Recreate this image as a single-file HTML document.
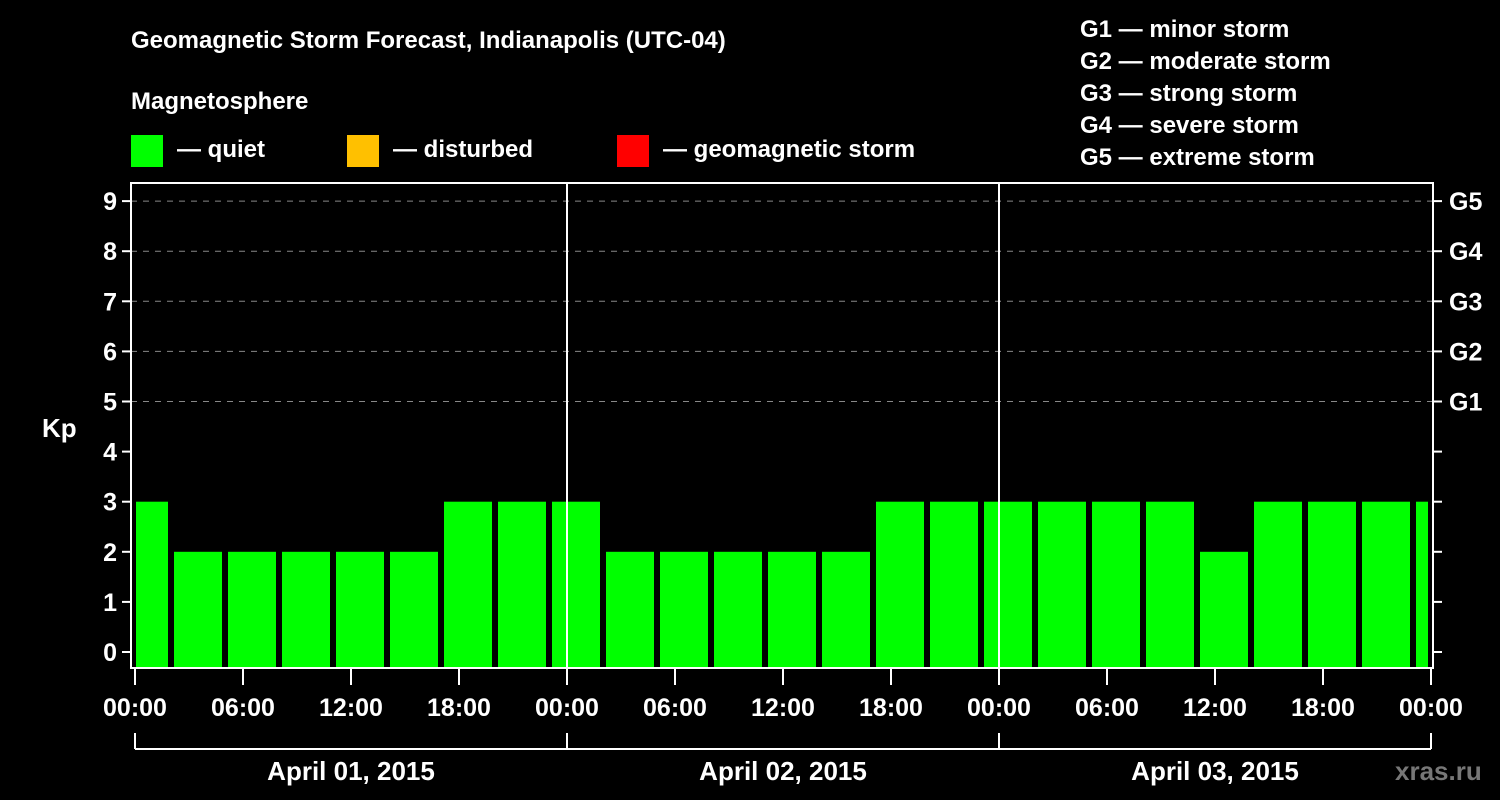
<!DOCTYPE html>
<html><head><meta charset="utf-8"><style>
body{margin:0;background:#000;}
svg{display:block;font-family:"Liberation Sans",Arial,sans-serif;font-weight:bold;}
</style></head><body>
<svg id="chart" width="1500" height="800" viewBox="0 0 1500 800">
<rect width="1500" height="800" fill="#000"/>
<text x="131" y="48" fill="#fff" font-size="24">Geomagnetic Storm Forecast, Indianapolis (UTC-04)</text>
<text x="131" y="109" fill="#fff" font-size="24">Magnetosphere</text>
<g><rect x="131" y="135" width="32" height="32" fill="#00ff00"/><text x="177" y="157" fill="#fff" font-size="24">— quiet</text></g>
<g><rect x="347" y="135" width="32" height="32" fill="#ffc000"/><text x="393" y="157" fill="#fff" font-size="24">— disturbed</text></g>
<g><rect x="617" y="135" width="32" height="32" fill="#ff0000"/><text x="663" y="157" fill="#fff" font-size="24">— geomagnetic storm</text></g>
<g fill="#fff" font-size="24">
<text x="1080" y="37">G1 — minor storm</text>
<text x="1080" y="69">G2 — moderate storm</text>
<text x="1080" y="101">G3 — strong storm</text>
<text x="1080" y="133">G4 — severe storm</text>
<text x="1080" y="165">G5 — extreme storm</text>
</g>
<text x="42" y="437" fill="#fff" font-size="26">Kp</text>
<g id="grid"></g>
<g id="bars"></g>
<g id="axes"></g>
<text x="1395" y="780" fill="#777" font-size="26">xras.ru</text>
</svg>
<script>
const kpValues=[3,2,2,2,2,2,3,3,3,2,2,2,2,2,3,3,3,3,3,3,2,3,3,3,3];
const barStartHours=[-1,2,5,8,11,14,17,20,23,26,29,32,35,38,41,44,47,50,53,56,59,62,65,68,71];
const xTickLabels=["00:00","06:00","12:00","18:00","00:00","06:00","12:00","18:00","00:00","06:00","12:00","18:00","00:00"];
const dayLabels=["April 01, 2015","April 02, 2015","April 03, 2015"];
const yTicks=[0,1,2,3,4,5,6,7,8,9];
const gLabels=[[5,"G1"],[6,"G2"],[7,"G3"],[8,"G4"],[9,"G5"]];
const NS="http://www.w3.org/2000/svg";
const L=131,R=1433,T=183,B=668;
const xs=h=>135+h*18;
const ys=k=>652-k*50.1;
function mk(tag,attrs,parent,text){const e=document.createElementNS(NS,tag);for(const k in attrs)e.setAttribute(k,attrs[k]);if(text!==undefined)e.textContent=text;parent.appendChild(e);return e;}
const grid=document.getElementById('grid'),bars=document.getElementById('bars'),axes=document.getElementById('axes');
for(const k of yTicks){if(k>=5){const l=mk('line',{x1:L,x2:R,y1:ys(k),y2:ys(k),stroke:'#888','stroke-dasharray':'6,6','stroke-width':1},grid);

}}
barStartHours.forEach((h,i)=>{let x0=Math.max(xs(h)+3,L+5),x1=Math.min(xs(h+3)-3,1428);
const v=kpValues[i];const c=v>=5?'#ff0000':(v>=4?'#ffc000':'#00ff00');
const r=mk('rect',{x:x0,y:ys(v),width:x1-x0,height:B-ys(v),fill:c},bars);

});
for(let d=1;d<3;d++){const l=mk('line',{x1:xs(d*24),x2:xs(d*24),y1:T,y2:B,stroke:'#fff','stroke-width':2},axes);

}
const frame=mk('rect',{x:L,y:T,width:R-L,height:B-T,fill:'none',stroke:'#fff','stroke-width':2},axes);


for(const k of yTicks){mk('line',{x1:L-9,x2:L,y1:ys(k),y2:ys(k),stroke:'#fff','stroke-width':2},axes);
mk('line',{x1:R,x2:R+9,y1:ys(k),y2:ys(k),stroke:'#fff','stroke-width':2},axes);
const t=mk('text',{x:L-14,y:ys(k)+9,fill:'#fff','font-size':25,'text-anchor':'end'},axes,String(k));

}
for(const [k,g] of gLabels){const t=mk('text',{x:1449,y:ys(k)+9,fill:'#fff','font-size':25},axes,g);

}
xTickLabels.forEach((lab,i)=>{const x=xs(i*6);mk('line',{x1:x,x2:x,y1:B,y2:B+17,stroke:'#fff','stroke-width':2},axes);
const t=mk('text',{x:x,y:716,fill:'#fff','font-size':25,'text-anchor':'middle'},axes,lab);

});
mk('line',{x1:xs(0),x2:xs(72),y1:749,y2:749,stroke:'#fff','stroke-width':2},axes);
for(let d=0;d<=3;d++)mk('line',{x1:xs(d*24),x2:xs(d*24),y1:733,y2:749,stroke:'#fff','stroke-width':2},axes);
dayLabels.forEach((lab,i)=>{const t=mk('text',{x:xs(i*24+12),y:780,fill:'#fff','font-size':26,'text-anchor':'middle'},axes,lab);

});
</script>
</body></html>
